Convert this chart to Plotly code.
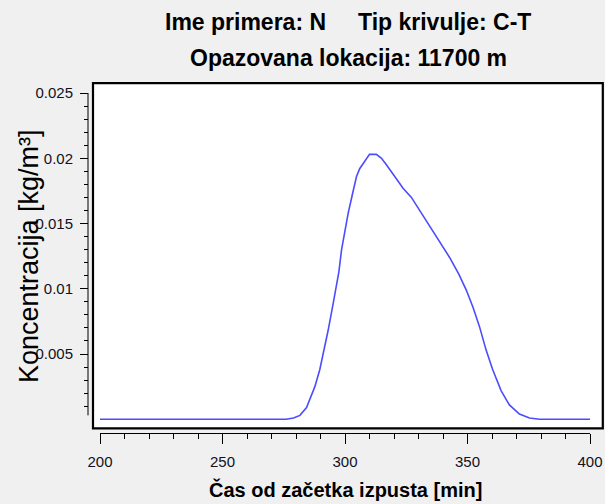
import plotly.graph_objects as go
import numpy as np

# ---- data ----
cas_min = [200, 220, 240, 260, 276, 279, 281.6, 284.3, 287.7, 289.7, 291.1, 293.1,
           295.2, 296.5, 297.5, 298.6, 299.9, 301.3, 303.1, 304.7, 306.0, 308.1,
           310.0, 312.8, 314.9, 316.9, 319.6, 323.7, 327.1, 330.5, 334.5, 338.6,
           342.7, 346.5, 349.5, 352.2, 354.9, 357.6, 360.3, 363.7, 367.1, 371.2,
           375.3, 379.4, 390, 400]
koncentracija = [0, 0, 0, 0, 0, 0.0001, 0.0003, 0.0009, 0.0025, 0.0038, 0.0050, 0.0068,
                 0.0089, 0.0104, 0.0113, 0.0130, 0.0145, 0.0158, 0.0173, 0.0186, 0.0192, 0.0198,
                 0.0203, 0.0203, 0.0200, 0.0195, 0.0188, 0.0177, 0.0170, 0.0160, 0.0149, 0.0137,
                 0.0124, 0.0111, 0.0099, 0.0086, 0.0071, 0.0053, 0.0038, 0.0022, 0.0011, 0.0004,
                 0.0001, 0, 0, 0]

y_tick_vals = [0.005, 0.01, 0.015, 0.02, 0.025]
y_tick_text = ["0.005", "0.01", "0.015", "0.02", "0.025"]
x_tick_vals = [200, 250, 300, 350, 400]

naslov_1 = "<b>Ime primera: N" + "\u00a0" * 5 + "Tip krivulje: C-T</b>"
naslov_2 = "<b>Opazovana lokacija: 11700 m</b>"
x_naslov = "<b>Čas od začetka izpusta [min]</b>"
y_naslov = "Koncentracija [kg/m³]"

# ---- geometry helpers (pixel -> paper) ----
W, H = 605, 504
ML, MR, MT, MB = 88, 15, 93, 71
PW = W - ML - MR
PH = H - MT - MB


def px_x(p):
    return (p - ML) / PW


def px_y(p):
    return (H - MB - p) / PH


SANS = "Liberation Sans, Arial, sans-serif"

fig = go.Figure()
fig.add_trace(go.Scatter(
    x=cas_min, y=koncentracija, mode="lines",
    line=dict(color="rgb(76,76,255)", width=1.6),
    showlegend=False, hoverinfo="x+y",
))

minor_y = [round(v, 3) for v in np.arange(0.001, 0.025, 0.001) if round(v * 1000) % 5 != 0]

fig.update_layout(
    width=W, height=H,
    margin=dict(l=ML, r=MR, t=MT, b=MB, pad=0, autoexpand=False),
    paper_bgcolor="#f0f0f0",
    plot_bgcolor="#f0f0f0",
    xaxis=dict(
        domain=[px_x(100), 1],
        range=[200, 400],
        automargin=False,
        tickmode="array", tickvals=x_tick_vals,
        ticks="outside", ticklen=10, tickwidth=1, tickcolor="#000000",
        ticklabelstandoff=5,
        minor=dict(dtick=10, tick0=200, ticks="outside", ticklen=5, tickwidth=1, tickcolor="#000000"),
        showline=True, linecolor="#000000", linewidth=1,
        showgrid=False, zeroline=False,
        tickfont=dict(family=SANS, size=15, color="#111122"),
    ),
    yaxis=dict(
        domain=[0, 1],
        range=[-0.00105, 0.025],
        automargin=False,
        anchor="free", position=0,
        tickmode="array", tickvals=y_tick_vals, ticktext=y_tick_text,
        ticks="outside", ticklen=8, tickwidth=1, tickcolor="#000000",
        ticklabelstandoff=4,
        minor=dict(tickmode="array", tickvals=minor_y, ticks="outside", ticklen=4,
                   tickwidth=1, tickcolor="#000000"),
        showline=False, showgrid=False, zeroline=False,
        tickfont=dict(family=SANS, size=15, color="#111122"),
    ),
    shapes=[
        # white framed plotting box
        dict(type="rect", xref="paper", yref="paper",
             x0=px_x(93), x1=px_x(602.8), y0=px_y(428.3), y1=px_y(83.2),
             fillcolor="#ffffff", line=dict(color="#000000", width=2.2), layer="below"),
        # detached y axis line
        dict(type="line", xref="paper", yref="y",
             x0=0, x1=0, y0=0.0003, y1=0.025,
             line=dict(color="#000000", width=1)),
    ],
    annotations=[
        dict(text=naslov_1, xref="paper", yref="paper",
             x=px_x(348), y=px_y(22), xanchor="center", yanchor="middle",
             showarrow=False, font=dict(family=SANS, size=23, color="#000000")),
        dict(text=naslov_2, xref="paper", yref="paper",
             x=px_x(348), y=px_y(58), xanchor="center", yanchor="middle",
             showarrow=False, font=dict(family=SANS, size=23, color="#000000")),
        dict(text=x_naslov, xref="paper", yref="paper",
             x=px_x(345), y=px_y(489), xanchor="center", yanchor="middle",
             showarrow=False, font=dict(family=SANS, size=20, color="#000000")),
        dict(text=y_naslov, xref="paper", yref="paper", textangle=-90,
             x=px_x(29), y=px_y(256), xanchor="center", yanchor="middle",
             showarrow=False, font=dict(family=SANS, size=27, color="#000000")),
    ],
)

fig.write_html(
    "out.html",
    config={"displayModeBar": False},
    post_script="document.body.style.margin='0';document.body.style.background='#f0f0f0';",
)
